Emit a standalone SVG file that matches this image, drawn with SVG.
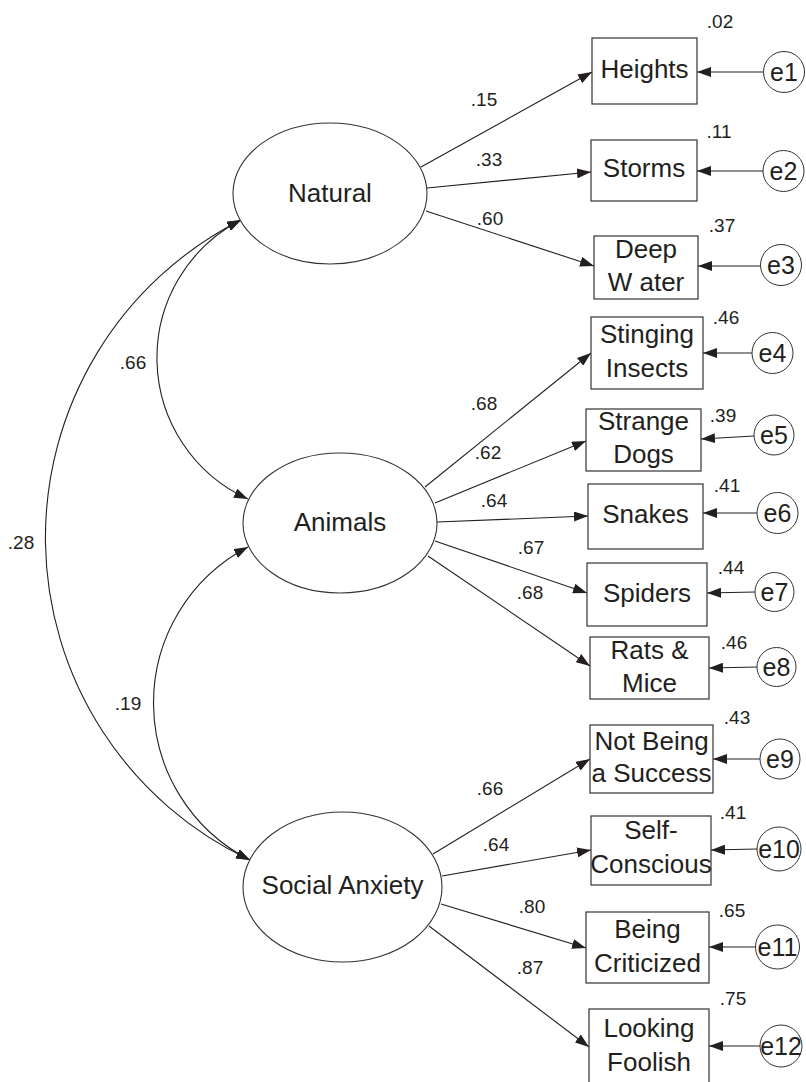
<svg xmlns="http://www.w3.org/2000/svg" width="806" height="1082" viewBox="0 0 806 1082">
<defs>
<marker id="ah" markerUnits="userSpaceOnUse" markerWidth="14" markerHeight="10" viewBox="0 0 14 10" refX="14" refY="5" orient="auto-start-reverse">
<path d="M0,0 L14,5 L0,10 Z" fill="#231f20"/>
</marker>
</defs>
<style>
text{font-family:"Liberation Sans",Arial,Helvetica,sans-serif;fill:#231f20;text-anchor:middle}
.lab{font-size:26px}
.err{font-size:25px}
.co{font-size:19px}
.box{fill:#fff;stroke:#333;stroke-width:1.2}
.lat{fill:#fff;stroke:#333;stroke-width:1.1}
.ec{fill:#fff;stroke:#333;stroke-width:1}
.cn{fill:none;stroke:#231f20;stroke-width:1.1;marker-end:url(#ah)}
.cv{fill:none;stroke:#231f20;stroke-width:1.1;marker-start:url(#ah);marker-end:url(#ah)}
</style>
<rect width="806" height="1082" fill="#fff"/>
<g id="connectors">
<path class="cn" d="M421,167 L592,72"/>
<path class="cn" d="M427,188 L591,172"/>
<path class="cn" d="M426,211 L594,266"/>
<path class="cn" d="M425,487 L591,353"/>
<path class="cn" d="M435,503 L586,441"/>
<path class="cn" d="M437,522 L588,516"/>
<path class="cn" d="M435,541 L587,593"/>
<path class="cn" d="M428,556 L590,666"/>
<path class="cn" d="M433,854 L590,759"/>
<path class="cn" d="M442,876 L591,850"/>
<path class="cn" d="M441,904 L586,948"/>
<path class="cn" d="M429,926 L589,1047"/>
<path class="cn" d="M764,72 L697,72"/>
<path class="cn" d="M763,171 L697,171"/>
<path class="cn" d="M761,266 L698,266"/>
<path class="cn" d="M752,353 L703,353"/>
<path class="cn" d="M754,436 L701,439"/>
<path class="cn" d="M757,513 L703,513"/>
<path class="cn" d="M755,592 L707,593"/>
<path class="cn" d="M757,667 L709,668"/>
<path class="cn" d="M760,759 L713,759"/>
<path class="cn" d="M757,849 L711,850"/>
<path class="cn" d="M757,947 L709,947"/>
<path class="cn" d="M761,1046 L709,1046"/>
<path class="cv" d="M241,220 A155,155 0 0 0 248,499"/>
<path class="cv" d="M241,220 A356,356 0 0 0 250,860"/>
<path class="cv" d="M248,547 A176,176 0 0 0 250,860"/>
<text class="co" x="484" y="106">.15</text>
<text class="co" x="489" y="166">.33</text>
<text class="co" x="490" y="225">.60</text>
<text class="co" x="484" y="410">.68</text>
<text class="co" x="488" y="459">.62</text>
<text class="co" x="494" y="507">.64</text>
<text class="co" x="531" y="554">.67</text>
<text class="co" x="530" y="599">.68</text>
<text class="co" x="490" y="795">.66</text>
<text class="co" x="496" y="851">.64</text>
<text class="co" x="532" y="913">.80</text>
<text class="co" x="530" y="974">.87</text>
<text class="co" x="133" y="369">.66</text>
<text class="co" x="21" y="549">.28</text>
<text class="co" x="128" y="710">.19</text>
</g>
<g id="natural"><ellipse class="lat" cx="330" cy="193.5" rx="97" ry="70.5"/><text class="lab" x="330" y="202">Natural</text></g>
<g id="animals"><ellipse class="lat" cx="340" cy="523" rx="97" ry="70"/><text class="lab" x="340" y="531">Animals</text></g>
<g id="social"><ellipse class="lat" cx="342.5" cy="887" rx="99.5" ry="75"/><text class="lab" x="342.5" y="894">Social Anxiety</text></g>

<g id="heights"><rect class="box" x="592" y="38" width="105" height="66"/><text class="lab" x="644.5" y="78">Heights</text><text class="co" x="720" y="28">.02</text></g>
<g id="storms"><rect class="box" x="591" y="140" width="106" height="61"/><text class="lab" x="644" y="177">Storms</text><text class="co" x="719" y="138">.11</text></g>
<g id="deepwater"><rect class="box" x="594" y="236" width="104" height="63"/><text class="lab" x="646" y="258">Deep</text><text class="lab" x="646" y="291">W ater</text><text class="co" x="722" y="232">.37</text></g>
<g id="stinging"><rect class="box" x="591" y="317" width="112" height="72"/><text class="lab" x="647" y="343">Stinging</text><text class="lab" x="647" y="377">Insects</text><text class="co" x="726" y="324">.46</text></g>
<g id="dogs"><rect class="box" x="586" y="409" width="115" height="62"/><text class="lab" x="643.5" y="430">Strange</text><text class="lab" x="643.5" y="463">Dogs</text><text class="co" x="723" y="422">.39</text></g>
<g id="snakes"><rect class="box" x="588" y="484" width="115" height="65"/><text class="lab" x="645.5" y="523">Snakes</text><text class="co" x="727" y="492">.41</text></g>
<g id="spiders"><rect class="box" x="587" y="563" width="120" height="63"/><text class="lab" x="647" y="602">Spiders</text><text class="co" x="731" y="574">.44</text></g>
<g id="rats"><rect class="box" x="590" y="637" width="119" height="62"/><text class="lab" x="649.5" y="659">Rats &amp;</text><text class="lab" x="649.5" y="692">Mice</text><text class="co" x="734" y="649">.46</text></g>
<g id="success"><rect class="box" x="590" y="725" width="123" height="68"/><text class="lab" x="651.5" y="750">Not Being</text><text class="lab" x="651.5" y="782">a Success</text><text class="co" x="737" y="724">.43</text></g>
<g id="selfconscious"><rect class="box" x="591" y="816" width="120" height="69"/><text class="lab" x="651" y="839">Self-</text><text class="lab" x="651" y="873">Conscious</text><text class="co" x="733" y="819">.41</text></g>
<g id="criticized"><rect class="box" x="586" y="912" width="123" height="71"/><text class="lab" x="647.5" y="938">Being</text><text class="lab" x="647.5" y="972">Criticized</text><text class="co" x="732" y="917">.65</text></g>
<g id="foolish"><rect class="box" x="589" y="1009" width="120" height="80"/><text class="lab" x="649" y="1037">Looking</text><text class="lab" x="649" y="1071">Foolish</text><text class="co" x="733" y="1005">.75</text></g>

<g id="e1"><circle class="ec" cx="784" cy="72" r="20.5"/><text class="err" x="784" y="81">e1</text></g>
<g id="e2"><circle class="ec" cx="783.5" cy="171" r="20.5"/><text class="err" x="783.5" y="180">e2</text></g>
<g id="e3"><circle class="ec" cx="781" cy="265" r="20.5"/><text class="err" x="781" y="274">e3</text></g>
<g id="e4"><circle class="ec" cx="772.5" cy="353" r="20.5"/><text class="err" x="772.5" y="362">e4</text></g>
<g id="e5"><circle class="ec" cx="774" cy="435" r="20"/><text class="err" x="774" y="444">e5</text></g>
<g id="e6"><circle class="ec" cx="777.5" cy="513" r="20.5"/><text class="err" x="777.5" y="522">e6</text></g>
<g id="e7"><circle class="ec" cx="774.5" cy="592" r="19.5"/><text class="err" x="774.5" y="601">e7</text></g>
<g id="e8"><circle class="ec" cx="776.5" cy="667" r="19.5"/><text class="err" x="776.5" y="676">e8</text></g>
<g id="e9"><circle class="ec" cx="780" cy="759" r="20"/><text class="err" x="780" y="768">e9</text></g>
<g id="e10"><circle class="ec" cx="779" cy="849" r="22"/><text class="err" x="779" y="858">e10</text></g>
<g id="e11"><circle class="ec" cx="777.5" cy="947" r="22"/><text class="err" x="777.5" y="956">e11</text></g>
<g id="e12"><circle class="ec" cx="781" cy="1046" r="21"/><text class="err" x="781" y="1055">e12</text></g>
</svg>
